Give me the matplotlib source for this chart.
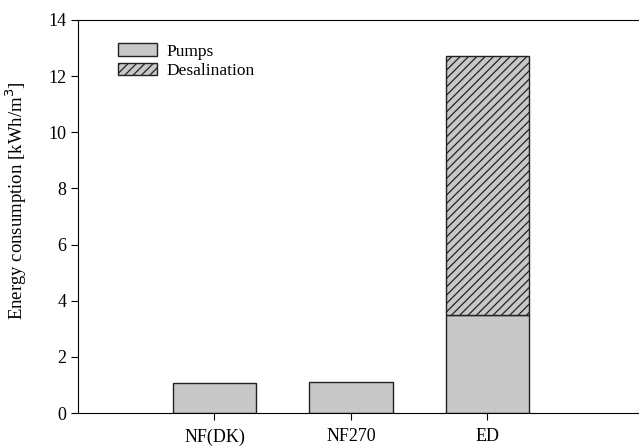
import numpy as np
import matplotlib.pyplot as plt

plt.rcParams['font.family'] = ['Liberation Serif', 'DejaVu Serif']
plt.rcParams['hatch.linewidth'] = 0.9

categories = ['NF(DK)', 'NF270', 'ED']
pumps = [1.06, 1.09, 3.49]
desalination = [0, 0, 9.24]

fig = plt.figure(figsize=(6.39, 4.46), dpi=100)
ax = fig.add_axes([78 / 639, 33 / 446, 561 / 639, 393 / 446])

x = np.arange(1, len(categories) + 1)
width = 0.61
ax.bar(x, pumps, width, color='#c8c8c8', edgecolor='#222222', linewidth=1.0, label='Pumps')
ax.bar(x[2:], desalination[2:], width, bottom=pumps[2:], color='#c8c8c8',
       edgecolor='#222222', linewidth=1.0, hatch='////', label='Desalination')

ax.set_xlim(0, 4.11)
ax.set_ylim(0, 14)
ax.set_yticks(range(0, 15, 2))
ax.set_xticks(x)
ax.set_xticklabels(categories)
ax.tick_params(direction='out', labelsize=13, length=5)
ax.tick_params(axis='x', pad=6)
ax.set_ylabel('Energy consumption [kWh/m$^3$]', fontsize=13.5)
ax.yaxis.set_label_coords(-0.088, 0.54)
ax.spines['right'].set_visible(False)

ax.legend(loc='upper left', bbox_to_anchor=(0.044, 0.98), frameon=False, fontsize=12.5,
          handlelength=2.25, handleheight=0.7, labelspacing=0.2, handletextpad=0.5)

fig.savefig('out.png', dpi=100)
